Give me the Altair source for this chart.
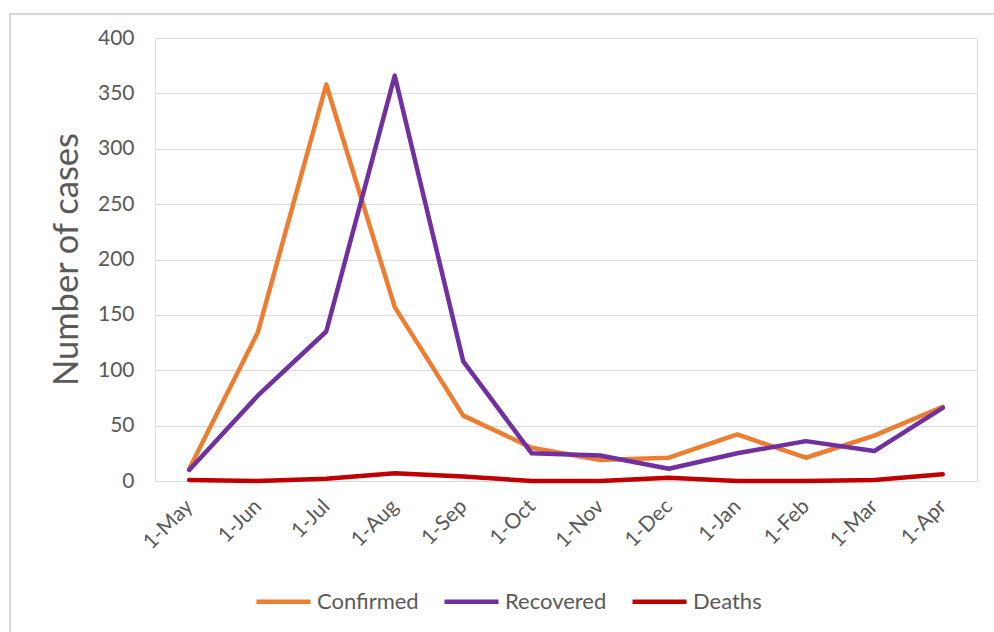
import altair as alt
import pandas as pd

months = ["1-May", "1-Jun", "1-Jul", "1-Aug", "1-Sep", "1-Oct",
          "1-Nov", "1-Dec", "1-Jan", "1-Feb", "1-Mar", "1-Apr"]
confirmed = [11, 134, 358, 157, 59, 30, 19, 21, 42, 21, 41, 67]
recovered = [10, 77, 135, 366, 108, 25, 23, 11, 25, 36, 27, 66]
deaths = [1, 0, 2, 7, 4, 0, 0, 3, 0, 0, 1, 6]
series = ["Confirmed", "Recovered", "Deaths"]
colors = ["#ED7D31", "#7030A0", "#C00000"]

rows = []
for name, vals in zip(series, [confirmed, recovered, deaths]):
    for m, v in zip(months, vals):
        rows.append({"month": m, "series": name, "value": v})
df = pd.DataFrame(rows)

FONT = "Lato"
GRAY = "#595959"

lines = alt.Chart(df).mark_line(strokeWidth=4.5, strokeCap="round", strokeJoin="round").encode(
    x=alt.X("month:N", sort=months,
            scale=alt.Scale(type="point", padding=0.5),
            axis=alt.Axis(title=None, labelAngle=-45, labelAlign="right", labelBaseline="middle",
                          labelFontSize=21, labelColor=GRAY, labelFont=FONT, labelPadding=22,
                          ticks=False, domainColor="#d9d9d9", domainWidth=1, grid=False)),
    y=alt.Y("value:Q", scale=alt.Scale(domain=[0, 400], nice=False),
            axis=alt.Axis(title="Number of cases", values=list(range(0, 401, 50)),
                          labelFontSize=21, labelColor=GRAY, labelFont=FONT, labelPadding=21,
                          ticks=False, domain=False, gridColor="#d9d9d9", gridWidth=1,
                          titleFontSize=34.5, titleFont=FONT, titleColor=GRAY, titleFontWeight="normal",
                          titleX=-88, titleY=221, titleAlign="center", titleBaseline="middle",
                          titleAngle=-90)),
    color=alt.Color("series:N", sort=series,
                    scale=alt.Scale(domain=series, range=colors),
                    legend=alt.Legend(title=None, orient="none", direction="horizontal",
                                      legendX=99, legendY=534, symbolType="stroke",
                                      symbolSize=2916, symbolStrokeWidth=4.5,
                                      labelFontSize=22, labelFont=FONT, labelColor=GRAY,
                                      labelOffset=4, columnPadding=16, padding=0)),
)

border = alt.Chart(pd.DataFrame({"a": [0]})).mark_rect(
    fill=None, stroke="#d9d9d9", strokeWidth=2
).encode(
    x=alt.value(-145), x2=alt.value(850), y=alt.value(-24), y2=alt.value(610)
)

chart = alt.layer(border, lines).properties(
    width=822, height=443,
    autosize=alt.AutoSizeParams(type="none"),
    padding={"left": 155, "top": 38, "right": 17, "bottom": 151},
).configure_view(stroke=None).configure(background="white")

chart.save("out.html", embed_options={"renderer": "svg", "actions": False})
